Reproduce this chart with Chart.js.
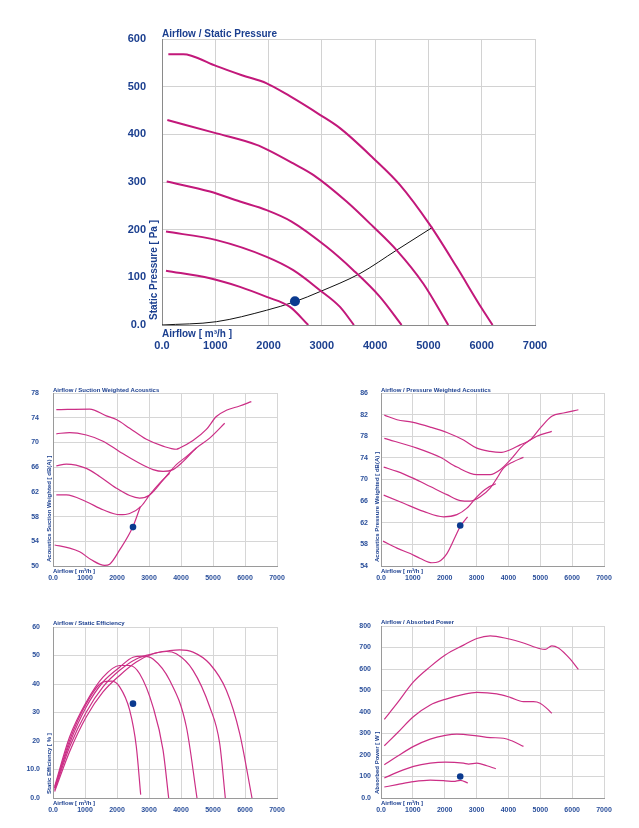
<!DOCTYPE html>
<html><head><meta charset="utf-8">
<script src="https://cdn.jsdelivr.net/npm/chart.js@4.4.1/dist/chart.umd.min.js"></script>
<style>
body{margin:0;background:#fff;width:639px;height:828px;position:relative;overflow:hidden}
canvas{position:absolute}
</style></head><body>
<canvas id="c0" width="639" height="360" style="left:0;top:0"></canvas>
<canvas id="c1" width="320" height="215" style="left:0;top:370px"></canvas>
<canvas id="c2" width="319" height="215" style="left:320px;top:370px"></canvas>
<canvas id="c3" width="320" height="228" style="left:0;top:600px"></canvas>
<canvas id="c4" width="319" height="228" style="left:320px;top:600px"></canvas>
<script>
// ---------- DATA ----------
const xTickLabels = ['0.0','1000','2000','3000','4000','5000','6000','7000'];

// Airflow / Static Pressure  [m3/h, Pa]
const pressure1 = [[119,568],[400,568],[550,565],[1025,543],[1500,524],[1964,507],[2400,480],[2964,441],[3340,413],[3965,350],[4465,294],[5028,210],[5528,122],[6000,35],[6204,0]];
const pressure2 = [[100,430],[1025,402],[1776,378],[1994,367],[2463,339],[2838,315],[3464,259],[3965,206],[4402,157],[4902,87],[5372,0]];
const pressure3 = [[88,301],[900,280],[1463,259],[1964,241],[2432,217],[3089,164],[3590,115],[4090,59],[4496,0]];
const pressure4 = [[75,196],[1025,178],[1964,143],[2463,115],[2964,73],[3340,38],[3602,0]];
const pressure5 = [[75,114],[900,98],[1463,80],[1964,59],[2401,38],[2745,0]];
const systemCurve = [[0,0],[1025,7],[1964,31],[2495,49],[2964,70],[3715,108],[4402,157],[5078,205]];
const pressureOp = [[2495,50]];
const pressureTicks = ['0.0','100','200','300','400','500','600'];

// Airflow / Suction Weighted Acoustics [dB(A)]
const suction1 = [[104,75.3],[1146,75.4],[1667,74.3],[1979,73.7],[2396,72.3],[2917,70.5],[3438,69.4],[3854,68.9],[3958,69.1],[4375,70.3],[4792,72.1],[5104,74.2],[5417,75.2],[5833,75.9],[6198,76.6]];
const suction2 = [[104,71.4],[521,71.6],[1042,71.2],[1563,70.2],[2083,68.5],[2604,66.9],[3125,65.6],[3438,65.3],[3750,65.6],[4063,66.9],[4479,69.1],[4896,70.7],[5365,73.1]];
const suction3 = [[104,66.2],[417,66.5],[1042,65.8],[1458,64.5],[1979,62.6],[2396,61.4],[2708,61.0],[3021,61.5],[3438,63.9],[3854,66.4],[4167,67.7],[4479,69.1]];
const suction4 = [[104,61.5],[417,61.5],[1042,60.4],[1563,59.1],[2083,58.3],[2396,58.5],[2760,59.7],[3021,61.5],[3333,63.4],[3646,65.0]];
const suction5 = [[52,53.4],[521,52.9],[833,52.3],[1198,51.0],[1615,50.1],[1771,50.3],[2083,52.6],[2500,56.4],[2729,59.6]];
const suctionOp = [[2500,56.3]];
const suctionTicks = ['50','54','58','62','66','70','74','78'];

// Airflow / Pressure Weighted Acoustics [dB(A)]
const pweight1 = [[104,81.9],[502,81.05],[972,80.6],[1546,79.7],[2069,78.7],[2591,77.3],[3009,75.8],[3427,75.2],[3741,75.0],[4054,75.5],[4368,76.4],[4681,77.3],[4995,79.5],[5361,81.7],[5726,82.3],[6196,82.9]];
const pweight2 = [[104,77.6],[1129,75.8],[1860,74.1],[2382,72.3],[3009,70.9],[3427,70.9],[3741,71.8],[4054,73.6],[4472,76.4],[4890,78.0],[5361,78.9]];
const pweight3 = [[84,72.3],[502,71.5],[1024,70.2],[1546,68.7],[2069,67.2],[2487,66.1],[2800,66.0],[3114,66.8],[3427,68.4],[3636,70.2],[3845,72.1],[4159,73.3],[4472,74.1]];
const pweight4 = [[84,67.1],[711,65.6],[1338,64.1],[1964,63.1],[2382,63.5],[2696,64.7],[3009,66.8],[3323,68.4],[3605,69.2]];
const pweight5 = [[63,58.6],[502,57.3],[919,56.3],[1233,55.4],[1599,54.6],[1808,54.8],[2069,56.3],[2330,59.4],[2487,61.3],[2717,63.1]];
const pweightOp = [[2487,61.5]];
const pweightTicks = ['54','58','62','66','70','74','78','82','86'];

// Airflow / Static Efficiency [%]
const eff1 = [[52,3.5],[521,20.3],[1042,33.1],[1563,40.7],[1823,41.0],[2083,39.0],[2396,30.8],[2604,18.0],[2740,1.2]];
const eff2 = [[52,4.1],[521,21.5],[1042,33.7],[1563,42.4],[2083,46.5],[2396,46.5],[2708,43.6],[3125,32.0],[3438,16.9],[3615,0]];
const eff3 = [[52,3.5],[521,19.2],[1042,32.0],[1563,40.7],[2083,45.9],[2500,49.4],[2813,49.8],[3125,48.8],[3646,41.3],[4167,25.0],[4500,0]];
const eff4 = [[52,2.9],[521,18.0],[1042,30.2],[1563,39.0],[2083,44.8],[2604,48.8],[3125,50.6],[3542,51.4],[3854,50.6],[4375,44.8],[4896,32.0],[5208,19.2],[5385,0]];
const eff5 = [[52,2.3],[521,16.3],[1042,28.5],[1563,37.2],[2083,43.0],[2604,47.7],[3125,50.6],[3646,51.7],[3958,52.0],[4375,51.2],[4896,47.1],[5417,37.8],[5833,22.7],[6219,0]];
const effOp = [[2500,33.1]];
const effTicks = ['0.0','10.0','20','30','40','50','60'];

// Airflow / Absorbed Power [W]
const power1 = [[104,366],[502,440],[1024,541],[1546,611],[2017,665],[2591,711],[3009,742],[3427,754],[3950,742],[4472,721],[4995,694],[5152,691],[5361,708],[5570,698],[5935,647],[6196,598]];
const power2 = [[104,243],[502,301],[1024,379],[1546,433],[2017,459],[2591,482],[3009,491],[3636,484],[4054,468],[4472,448],[4785,448],[4995,441],[5204,417],[5361,394]];
const power3 = [[104,155],[502,193],[1024,240],[1546,274],[2017,291],[2382,297],[3009,289],[3427,281],[3845,278],[4106,266],[4472,240]];
const power4 = [[104,93],[502,119],[1024,147],[1546,162],[2017,167],[2591,162],[2748,158],[3009,162],[3323,150],[3605,136]];
const power5 = [[104,51],[502,62],[1024,76],[1546,83],[2017,80],[2278,77],[2487,82],[2727,70]];
const powerOp = [[2487,100]];
const powerTicks = ['0.0','100','200','300','400','500','600','700','800'];

// ---------- RENDERING ----------
const FONT = '"Liberation Sans", Arial, Helvetica, sans-serif';
const toPts = a => a.map(p => ({x: p[0], y: p[1]}));

const annotPlugin = {
  id: 'annot',
  afterDraw(chart, args, o) {
    const ctx = chart.ctx, a = chart.chartArea;
    ctx.save();
    ctx.fillStyle = o.color;
    ctx.textAlign = 'left';
    ctx.textBaseline = 'alphabetic';
    ctx.font = o.titleFont;
    ctx.fillText(o.title, a.left + o.titleDx, a.top - o.titleDy);
    ctx.font = o.axisFont;
    ctx.fillText(o.xTitle, a.left + o.xDx, a.bottom + o.xDy);
    ctx.translate(a.left - o.yDx, a.bottom - o.yDy);
    ctx.rotate(-Math.PI / 2);
    ctx.fillText(o.yTitle, 0, 0);
    ctx.restore();
  }
};

function build(id, c) {
  const datasets = c.curves.map(d => ({
    data: toPts(d), borderColor: c.curveColor, borderWidth: c.curveWidth,
    pointRadius: 0, showLine: true, fill: false, cubicInterpolationMode: 'monotone'
  }));
  if (c.system) datasets.push({
    data: toPts(c.system), borderColor: '#111', borderWidth: 1,
    pointRadius: 0, showLine: true, fill: false, cubicInterpolationMode: 'monotone'
  });
  datasets.push({
    data: toPts(c.op), pointRadius: c.dotR, pointBackgroundColor: '#0b3a8f',
    pointBorderWidth: 0, showLine: false, order: -1
  });
  new Chart(document.getElementById(id), {
    type: 'scatter',
    data: {datasets},
    options: {
      responsive: false, animation: false, devicePixelRatio: 1,
      layout: {padding: {left: 0, top: c.padTop, right: c.padRight, bottom: 0}},
      plugins: {
        legend: {display: false}, tooltip: {enabled: false},
        annot: c.annot
      },
      scales: {
        x: {
          type: 'linear', min: 0, max: 7000,
          ticks: {stepSize: 1000, autoSkip: false, maxRotation: 0,
            callback: (v, i) => xTickLabels[i],
            font: {family: FONT, size: c.tickSize, weight: 'bold'}, color: c.tickColor, padding: c.xPad},
          grid: {color: c.gridColor, drawTicks: false, lineWidth: 1},
          border: {color: c.axisColor, width: 1},
          afterFit: s => { s.height = c.xH; }
        },
        y: {
          type: 'linear', min: c.yMin, max: c.yMax,
          ticks: {stepSize: c.yStep, autoSkip: false,
            callback: (v, i) => c.yLabels[i],
            font: {family: FONT, size: c.tickSize, weight: 'bold'}, color: c.tickColor, padding: c.yPad},
          grid: {color: c.gridColor, drawTicks: false, lineWidth: 1},
          border: {color: c.axisColor, width: 1},
          afterFit: s => { s.width = c.yW; }
        }
      }
    },
    plugins: [annotPlugin]
  });
}

const MAINCOL = '#1b3f8f', SMALLCOL = '#2a4f9b';

build('c0', {
  curves: [pressure1, pressure2, pressure3, pressure4, pressure5], system: systemCurve, op: pressureOp,
  curveColor: '#c2187a', curveWidth: 2, dotR: 5,
  padTop: 39, padRight: 104, yW: 162, xH: 35, yMin: 0, yMax: 600, yStep: 100, yLabels: pressureTicks,
  tickSize: 11, tickColor: MAINCOL, xPad: 14, yPad: 16, gridColor: '#d2d2d2', axisColor: '#8a8a8a',
  annot: {color: MAINCOL, title: 'Airflow / Static Pressure', titleFont: 'bold 10px ' + FONT, titleDx: 0, titleDy: 2,
    axisFont: 'bold 10px ' + FONT, xTitle: 'Airflow [ m³/h ]', xDx: 0, xDy: 12,
    yTitle: 'Static Pressure [ Pa ]', yDx: 5, yDy: 5}
});

const smallBase = {
  curveColor: '#cc2f86', curveWidth: 1.2, dotR: 3.3, tickSize: 7, tickColor: SMALLCOL,
  gridColor: '#d6d6d6', axisColor: '#9a9a9a', xPad: 7.5
};

build('c1', Object.assign({}, smallBase, {
  curves: [suction1, suction2, suction3, suction4, suction5], op: suctionOp,
  padTop: 23, padRight: 43, yW: 53, xH: 19, yMin: 50, yMax: 78, yStep: 4, yLabels: suctionTicks, yPad: 14,
  annot: {color: MAINCOL, title: 'Airflow / Suction Weighted Acoustics', titleFont: 'bold 6px ' + FONT, titleDx: 0, titleDy: 1.5,
    axisFont: 'bold 6px ' + FONT, xTitle: 'Airflow [ m³/h ]', xDx: 0, xDy: 6.5,
    yTitle: 'Acoustics Suction Weighted [ dB(A) ]', yDx: 2, yDy: 4}
}));

build('c2', Object.assign({}, smallBase, {
  curves: [pweight1, pweight2, pweight3, pweight4, pweight5], op: pweightOp,
  padTop: 23, padRight: 35, yW: 61, xH: 19, yMin: 54, yMax: 86, yStep: 4, yLabels: pweightTicks, yPad: 13,
  annot: {color: MAINCOL, title: 'Airflow / Pressure Weighted Acoustics', titleFont: 'bold 6px ' + FONT, titleDx: 0, titleDy: 1.5,
    axisFont: 'bold 6px ' + FONT, xTitle: 'Airflow [ m³/h ]', xDx: 0, xDy: 6.5,
    yTitle: 'Acoustics Pressure Weighted [ dB(A) ]', yDx: 2, yDy: 4}
}));

build('c3', Object.assign({}, smallBase, {
  curves: [eff1, eff2, eff3, eff4, eff5], op: effOp,
  padTop: 27, padRight: 43, yW: 53, xH: 30, yMin: 0, yMax: 60, yStep: 10, yLabels: effTicks, yPad: 13,
  annot: {color: MAINCOL, title: 'Airflow / Static Efficiency', titleFont: 'bold 6px ' + FONT, titleDx: 0, titleDy: 2,
    axisFont: 'bold 6px ' + FONT, xTitle: 'Airflow [ m³/h ]', xDx: 0, xDy: 7,
    yTitle: 'Static Efficiency [ % ]', yDx: 2, yDy: 4}
}));

build('c4', Object.assign({}, smallBase, {
  curves: [power1, power2, power3, power4, power5], op: powerOp,
  padTop: 26, padRight: 35, yW: 61, xH: 30, yMin: 0, yMax: 800, yStep: 100, yLabels: powerTicks, yPad: 10,
  annot: {color: MAINCOL, title: 'Airflow / Absorbed Power', titleFont: 'bold 6px ' + FONT, titleDx: 0, titleDy: 2,
    axisFont: 'bold 6px ' + FONT, xTitle: 'Airflow [ m³/h ]', xDx: 0, xDy: 7,
    yTitle: 'Absorbed Power [ W ]', yDx: 2, yDy: 4}
}));
</script>
</body></html>
